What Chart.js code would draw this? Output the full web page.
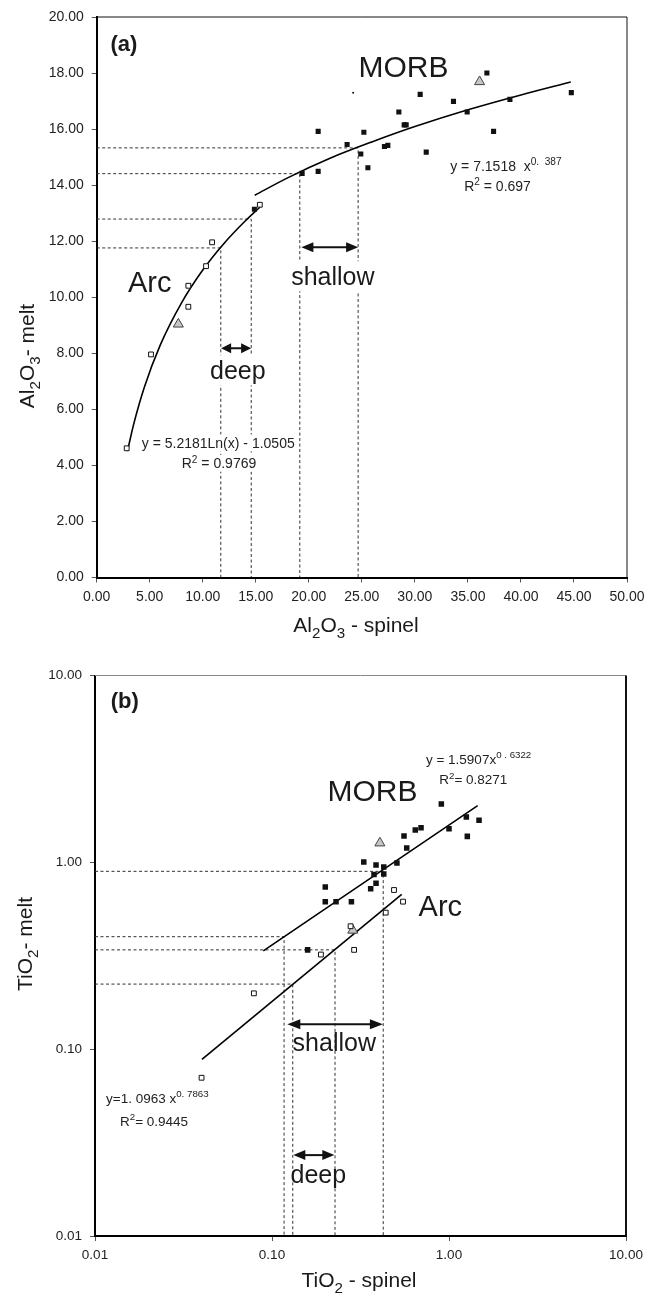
<!DOCTYPE html>
<html><head><meta charset="utf-8">
<script src="https://cdn.jsdelivr.net/npm/chart.js@4/dist/chart.umd.min.js"></script>
<style>
html,body{margin:0;padding:0;background:#fff;width:657px;height:1298px;overflow:hidden;}
#wa{position:absolute;left:0;top:0;width:657px;height:650px;}
#wb{position:absolute;left:0;top:650px;width:657px;height:648px;}
canvas{display:block;}
</style></head><body>
<div id="wa"><canvas id="ca" width="657" height="650"></canvas></div>
<div id="wb"><canvas id="cb" width="657" height="648"></canvas></div>
<script>
// ---------- Panel (a) data ----------
const aXTicks = [0,5,10,15,20,25,30,35,40,45,50];
const aYTicks = [0,2,4,6,8,10,12,14,16,18,20];
const aArcX = [2.83,5.12,8.64,8.64,10.31,10.88,15.38];
const aArcY = [4.61,7.96,9.66,10.41,11.11,11.96,13.30];
const aMorbX = [14.87,19.37,20.88,20.88,23.61,24.90,25.19,25.57,27.13,27.45,28.49,28.99,29.18,30.50,31.07,33.64,34.93,36.79,37.42,38.96,44.75];
const aMorbY = [13.14,14.42,14.49,15.92,15.45,15.11,15.89,14.62,15.38,15.42,16.61,16.15,16.15,17.24,15.18,16.99,16.61,18.00,15.92,17.06,17.30];
const aTriX = [7.70,36.10];
const aTriY = [9.04,17.69];
const aDotX = [24.18];
const aDotY = [17.30];
const aArcFitX = [2.9,3.5,4.5,6,8,10,12,14,15.4];
const aArcFitY = [4.51,5.49,6.80,8.30,9.80,10.97,11.92,12.72,13.22];
const aMorbFitX = [14.9,18,22,26,30,35,40,44.7];
const aMorbFitY = [13.64,14.26,14.96,15.55,16.09,16.69,17.22,17.68];
const aGuideX = [11.70,14.57,19.15,24.65];
const aGuideY = [11.76,12.79,14.41,15.33];

// ---------- Panel (b) data ----------
const bXTicks = [0.01,0.1,1,10];
const bYTicks = [0.01,0.1,1,10];
const bMorbX = [0.200,0.200,0.230,0.281,0.330,0.387,0.428,0.377,0.428,0.387,0.361,0.508,0.577,0.557,0.645,0.695,1.00,1.269,1.253,1.478,0.905,0.159];
const bMorbY = [0.738,0.616,0.616,0.616,1.004,0.968,0.944,0.860,0.866,0.772,0.723,0.991,1.193,1.382,1.488,1.532,1.514,1.377,1.747,1.678,2.05,0.340];
const bArcX = [0.489,0.550,0.439,0.278,0.291,0.189,0.079,0.040];
const bArcY = [0.711,0.616,0.538,0.455,0.340,0.321,0.199,0.0703];
const bTriX = [0.286,0.407];
const bTriY = [0.433,1.269];
const bMorbFitX = [0.0893,1.452];
const bMorbFitY = [0.336,2.01];
const bArcFitX = [0.0402,0.5405];
const bArcFitY = [0.0881,0.674];
const bGuideX = [0.117,0.131,0.227,0.425];
const bGuideY = [0.400,0.223,0.340,0.895];

const FONT = "'Liberation Sans', Arial, Helvetica, sans-serif";
const pts = (xs, ys) => xs.map((v, i) => ({x: v, y: ys[i]}));

function drawRich(ctx, segs, x, y, o) {
  const size = o.size;
  const w = o.weight || 'normal';
  const widths = segs.map(s => {
    const fs = s.s ? size * 0.72 : size;
    ctx.font = w + ' ' + fs + 'px ' + FONT;
    return ctx.measureText(s.t).width;
  });
  const total = widths.reduce((a, b) => a + b, 0);
  ctx.save();
  ctx.translate(x, y);
  if (o.rot) ctx.rotate(o.rot);
  let sx = o.align === 'center' ? -total / 2 : 0;
  let dy = 0;
  if (o.base === 'middle') dy = size * 0.36;
  if (o.bg) {
    ctx.fillStyle = '#fff';
    ctx.fillRect(sx - 2, dy - size * 0.95, total + 4, size * 1.2);
  }
  ctx.fillStyle = o.color || '#1a1a1a';
  ctx.textBaseline = 'alphabetic';
  ctx.textAlign = 'left';
  segs.forEach((s, i) => {
    const fs = s.s ? size * 0.72 : size;
    ctx.font = w + ' ' + fs + 'px ' + FONT;
    let off = 0;
    if (s.s === 'sub') off = size * 0.3;
    if (s.s === 'sup') off = -size * 0.4;
    ctx.fillText(s.t, sx, dy + off);
    sx += widths[i];
  });
  ctx.restore();
}

const decoPlugin = {
  id: 'deco',
  afterDatasetsDraw(chart, args, opts) {
    const ctx = chart.ctx;
    const xs = chart.scales.x, ys = chart.scales.y;
    const ca = chart.chartArea;
    ctx.save();
    ctx.strokeStyle = opts.topColor; ctx.lineWidth = opts.topWidth;
    ctx.beginPath(); ctx.moveTo(ca.left, ca.top); ctx.lineTo(ca.right, ca.top); ctx.stroke();
    ctx.strokeStyle = opts.rightColor; ctx.lineWidth = opts.rightWidth;
    ctx.beginPath(); ctx.moveTo(ca.right, ca.top); ctx.lineTo(ca.right, ca.bottom); ctx.stroke();
    ctx.restore();
    (opts.texts || []).forEach(t => {
      drawRich(ctx, t.segs, xs.getPixelForValue(t.x), ys.getPixelForValue(t.y), t);
    });
    (opts.arrows || []).forEach(a => {
      const x1 = xs.getPixelForValue(a.x1), x2 = xs.getPixelForValue(a.x2), y = ys.getPixelForValue(a.y);
      const hl = a.head, hw = 5;
      ctx.save();
      ctx.strokeStyle = '#111'; ctx.fillStyle = '#111'; ctx.lineWidth = 2;
      ctx.beginPath(); ctx.moveTo(x1 + hl - 1, y); ctx.lineTo(x2 - hl + 1, y); ctx.stroke();
      ctx.beginPath(); ctx.moveTo(x1, y); ctx.lineTo(x1 + hl, y - hw); ctx.lineTo(x1 + hl, y + hw); ctx.closePath(); ctx.fill();
      ctx.beginPath(); ctx.moveTo(x2, y); ctx.lineTo(x2 - hl, y - hw); ctx.lineTo(x2 - hl, y + hw); ctx.closePath(); ctx.fill();
      ctx.restore();
    });
  },
  afterDraw(chart, args, opts) {
    const ctx = chart.ctx;
    (opts.titles || []).forEach(t => drawRich(ctx, t.segs, t.px, t.py, t));
  }
};
Chart.register(decoPlugin);

function guideSets(gx, gy, x0, y0) {
  return gx.map((g, i) => ({
    data: [{x: x0, y: gy[i]}, {x: g, y: gy[i]}, {x: g, y: y0}],
    showLine: true, pointRadius: 0, borderColor: '#333', borderWidth: 1,
    borderDash: [3, 2.5], order: 3
  }));
}
function markerSets(morbX, morbY, arcX, arcY, triX, triY, r) {
  return [
    {data: pts(morbX, morbY), pointStyle: 'rect', pointRadius: r, backgroundColor: '#111', borderColor: '#111', borderWidth: 0, order: 0},
    {data: pts(arcX, arcY), pointStyle: 'rect', pointRadius: 3.4, backgroundColor: '#fff', borderColor: '#111', borderWidth: 1, order: 0},
    {data: pts(triX, triY), pointStyle: 'triangle', pointRadius: 5.8, backgroundColor: '#c6c6c6', borderColor: '#444', borderWidth: 1, order: 0}
  ];
}
function fitSet(xs, ys) {
  return {data: pts(xs, ys), showLine: true, pointRadius: 0, borderColor: '#000', borderWidth: 1.6,
    cubicInterpolationMode: 'monotone', order: 1};
}
const fmt = v => Number(v).toFixed(2);

function axis(type, min, max, ticks, fontSize, pad, isX, fitSize) {
  return {
    type, min, max,
    afterBuildTicks: s => { s.ticks = ticks.map(v => ({value: v})); },
    afterFit: s => { if (isX) s.height = fitSize; else s.width = fitSize; },
    ticks: {callback: fmt, color: '#222', font: {family: FONT, size: fontSize}, padding: pad, autoSkip: false, maxRotation: 0},
    grid: {drawOnChartArea: false, drawTicks: true, tickLength: 5, tickColor: '#555'},
    border: {display: true, color: '#000', width: 2},
    title: {display: false}
  };
}

// ---------- Chart (a) ----------
new Chart(document.getElementById('ca'), {
  type: 'scatter',
  data: {datasets: [
    ...markerSets(aMorbX, aMorbY, aArcX, aArcY, aTriX, aTriY, 3.6),
    {data: pts(aDotX, aDotY), pointStyle: 'circle', pointRadius: 1, backgroundColor: '#111', borderWidth: 0, order: 0},
    fitSet(aArcFitX, aArcFitY),
    fitSet(aMorbFitX, aMorbFitY),
    ...guideSets(aGuideX, aGuideY, 0, 0)
  ]},
  options: {
    responsive: false, animation: false, devicePixelRatio: 1,
    layout: {padding: {left: 36.7, right: 30, top: 17, bottom: 32.5}},
    scales: {
      x: axis('linear', 0, 50, aXTicks, 14, 6, true, 40),
      y: axis('linear', 0, 20, aYTicks, 14, 8, false, 60)
    },
    plugins: {
      legend: {display: false}, tooltip: {enabled: false},
      deco: {
        topColor: '#111', topWidth: 1, rightColor: '#111', rightWidth: 1,
        texts: [
          {segs: [{t: '(a)'}], x: 2.57, y: 19.07, size: 22, weight: 'bold', align: 'center', base: 'middle'},
          {segs: [{t: 'MORB'}], x: 28.93, y: 18.25, size: 30, align: 'center', base: 'middle'},
          {segs: [{t: 'Arc'}], x: 5.0, y: 10.55, size: 29, align: 'center', base: 'middle', bg: true},
          {segs: [{t: 'shallow'}], x: 22.27, y: 10.44, size: 25, align: 'center', bg: true},
          {segs: [{t: 'deep'}], x: 13.31, y: 7.08, size: 25, align: 'center', bg: true},
          {segs: [{t: 'y = 7.1518  x'}, {t: '0.  387', s: 'sup'}], x: 33.33, y: 14.51, size: 14, bg: true, color: '#222'},
          {segs: [{t: 'R'}, {t: '2', s: 'sup'}, {t: ' = 0.697'}], x: 34.65, y: 13.80, size: 14, bg: true, color: '#222'},
          {segs: [{t: 'y = 5.2181Ln(x) - 1.0505'}], x: 4.25, y: 4.63, size: 14, bg: true, color: '#222'},
          {segs: [{t: 'R'}, {t: '2', s: 'sup'}, {t: ' = 0.9769'}], x: 8.02, y: 3.90, size: 14, bg: true, color: '#222'}
        ],
        arrows: [
          {x1: 11.73, x2: 14.56, y: 8.18, head: 10},
          {x1: 19.30, x2: 24.65, y: 11.78, head: 12}
        ],
        titles: [
          {segs: [{t: 'Al'}, {t: '2', s: 'sub'}, {t: 'O'}, {t: '3', s: 'sub'}, {t: ' - spinel'}], px: 356, py: 632, size: 21, align: 'center'},
          {segs: [{t: 'Al'}, {t: '2', s: 'sub'}, {t: 'O'}, {t: '3', s: 'sub'}, {t: '- melt'}], px: 33.5, py: 356, size: 21, align: 'center', rot: -Math.PI / 2}
        ]
      }
    }
  }
});

// ---------- Chart (b) ----------
new Chart(document.getElementById('cb'), {
  type: 'scatter',
  data: {datasets: [
    ...markerSets(bMorbX, bMorbY, bArcX, bArcY, bTriX, bTriY, 3.9),
    fitSet(bMorbFitX, bMorbFitY),
    fitSet(bArcFitX, bArcFitY),
    ...guideSets(bGuideX, bGuideY, 0.01, 0.01)
  ]},
  options: {
    responsive: false, animation: false, devicePixelRatio: 1,
    layout: {padding: {left: 35, right: 31, top: 25.5, bottom: 22}},
    scales: {
      x: axis('logarithmic', 0.01, 10, bXTicks, 13.5, 6, true, 40),
      y: axis('logarithmic', 0.01, 10, bYTicks, 13.5, 8, false, 60)
    },
    plugins: {
      legend: {display: false}, tooltip: {enabled: false},
      deco: {
        topColor: '#888', topWidth: 1, rightColor: '#111', rightWidth: 2,
        texts: [
          {segs: [{t: '(b)'}], x: 0.01472, y: 7.35, size: 22, weight: 'bold', align: 'center', base: 'middle'},
          {segs: [{t: 'MORB'}], x: 0.3696, y: 2.418, size: 30, align: 'center', base: 'middle'},
          {segs: [{t: 'Arc'}], x: 0.893, y: 0.589, size: 29, align: 'center', base: 'middle'},
          {segs: [{t: 'shallow'}], x: 0.2249, y: 0.0976, size: 25, align: 'center'},
          {segs: [{t: 'deep'}], x: 0.1827, y: 0.01928, size: 25, align: 'center'},
          {segs: [{t: 'y = 1.5907x'}, {t: '0 . 6322', s: 'sup'}], x: 0.741, y: 3.372, size: 13.5, color: '#222'},
          {segs: [{t: 'R'}, {t: '2', s: 'sup'}, {t: '= 0.8271'}], x: 0.881, y: 2.613, size: 13.5, color: '#222'},
          {segs: [{t: 'y=1. 0963 x'}, {t: '0. 7863', s: 'sup'}], x: 0.01154, y: 0.0516, size: 13.5, color: '#222'},
          {segs: [{t: 'R'}, {t: '2', s: 'sup'}, {t: '= 0.9445'}], x: 0.01384, y: 0.0389, size: 13.5, color: '#222'}
        ],
        arrows: [
          {x1: 0.122, x2: 0.423, y: 0.136, head: 13},
          {x1: 0.132, x2: 0.225, y: 0.0271, head: 12}
        ],
        titles: [
          {segs: [{t: 'TiO'}, {t: '2', s: 'sub'}, {t: ' - spinel'}], px: 359, py: 637, size: 21, align: 'center'},
          {segs: [{t: 'TiO'}, {t: '2', s: 'sub'}, {t: '- melt'}], px: 32, py: 294, size: 21, align: 'center', rot: -Math.PI / 2}
        ]
      }
    }
  }
});
</script>
</body></html>
